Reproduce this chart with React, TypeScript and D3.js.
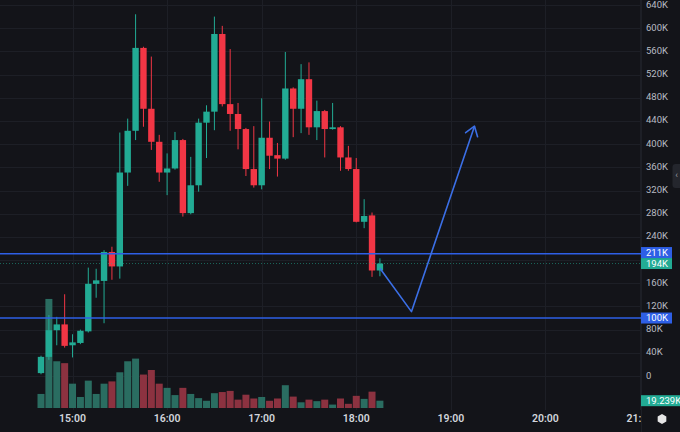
import React from 'react';
import * as d3 from 'd3';

const W = 680;
const H = 432;
const PANE_RIGHT = 641; // left edge of the price scale
const TIME_AXIS_Y = 419;

// candles are 5 minutes apart, first one at 14:40
const firstCandle = '14:40';
const candleMinutes = 5;

// prices in thousands
const opens = [5, 33, 79, 89, 53, 57, 77, 159, 164, 214, 189, 351, 423, 566, 461, 404, 351, 358, 407, 281, 329, 437,
  456, 590, 469, 452, 426, 357, 329, 411, 381, 375, 496, 461, 512, 429, 457, 426, 429, 377, 357, 266, 277, 182];
const highs = [35, 105, 102, 141, 72, 80, 187, 185, 217, 223, 420, 444, 624, 568, 551, 416, 384, 421, 409, 378, 444, 467,
  620, 604, 564, 471, 428, 431, 479, 439, 402, 559, 498, 538, 541, 475, 459, 471, 431, 397, 376, 305, 282, 203];
const lows = [3, 28, 53, 49, 32, 55, 75, 135, 91, 166, 168, 328, 407, 430, 390, 335, 312, 356, 275, 279, 318, 376,
  424, 465, 423, 391, 345, 325, 322, 357, 344, 373, 412, 419, 416, 407, 377, 425, 354, 354, 265, 255, 171, 172];
const closes = [33, 79, 89, 52, 58, 78, 159, 165, 214, 189, 351, 423, 566, 461, 404, 351, 358, 407, 281, 329, 437, 456,
  590, 469, 452, 426, 357, 329, 411, 380, 375, 496, 461, 512, 429, 457, 426, 429, 377, 357, 266, 276, 182, 194];
// volume in thousands
const volumes = [37, 287, 123, 118, 64, 29, 72, 37, 64, 70, 94, 123, 130, 88, 100, 64, 53, 34, 53, 37, 26, 19,
  39, 42, 45, 22, 35, 25, 29, 19, 25, 60, 30, 15, 22, 18, 22, 9, 25, 11, 32, 24, 43, 19.239];

const timeTicks = ['15:00', '16:00', '17:00', '18:00', '19:00', '20:00', '21:00'];
const priceTicks = [0, 40, 80, 120, 160, 200, 240, 280, 320, 360, 400, 440, 480, 520, 560, 600, 640];

// horizontal levels drawn on the chart
const levelValues = [211, 100];
const levelLabels = ['211K', '100K'];
const lastPrice = 194;
const lastPriceLabel = '194K';
const lastVolumeLabel = '19.239K';

// hand drawn arrow
const arrowTimes = ['18:15', '18:35', '19:15'];
const arrowValues = [186, 111, 431];

const BG = '#131419';
const GRID = '#1d1f26';
const UP = '#22ab94';
const DOWN = '#f23645';
const UP_VOL = '#2a6d61';
const DOWN_VOL = '#8c3240';
const LEVEL = '#2e5fe6';
const ARROW = '#3b6fe6';
const AXIS_TEXT = '#b8bbc3';
const FONT = 'Roboto, "Noto Sans", Arial, sans-serif';

const toMin = (s: string) => {
  const [h, m] = s.split(':').map(Number);
  return h * 60 + m;
};

const App: React.FC = () => {
  const x = d3.scaleLinear().domain([toMin('14:40'), toMin('21:00')]).range([41, 640]);
  const y = d3.scaleLinear().domain([0, 640]).range([376, 5]);
  const yVol = d3.scaleLinear().domain([0, 300]).range([408, 294]);

  const t0 = toMin(firstCandle);
  const candles = opens.map((o, i) => ({
    t: t0 + i * candleMinutes,
    o,
    h: highs[i],
    l: lows[i],
    c: closes[i],
    v: volumes[i],
  }));
  const bodyW = 6.4;
  const volW = 7;

  const arrowPts: [number, number][] = arrowTimes.map((t, i) => [x(toMin(t)), y(arrowValues[i])]);
  const line = d3.line();
  // arrow head
  const [tx, ty] = arrowPts[arrowPts.length - 1];
  const [px, py] = arrowPts[arrowPts.length - 2];
  const ang = Math.atan2(py - ty, px - tx);
  const headLen = 11;
  const spread = (35 * Math.PI) / 180;
  const head: [number, number][] = [
    [tx + headLen * Math.cos(ang + spread), ty + headLen * Math.sin(ang + spread)],
    [tx, ty],
    [tx + headLen * Math.cos(ang - spread), ty + headLen * Math.sin(ang - spread)],
  ];

  // price label boxes on the scale, pushed apart if they overlap
  const boxH = 11;
  const boxes = [
    { value: lastPrice, label: lastPriceLabel, color: UP, cy: y(lastPrice) },
    ...levelValues.map((v, i) => ({ value: v, label: levelLabels[i], color: LEVEL, cy: y(v) })),
  ];
  const sorted = [...boxes].sort((a, b) => b.cy - a.cy);
  for (let i = 1; i < sorted.length; i++) {
    const below = sorted[i - 1];
    if (sorted[i].cy > below.cy - boxH) sorted[i].cy = below.cy - boxH;
  }

  const hiddenTicks = priceTicks.filter((p) =>
    boxes.some((b) => Math.abs(y(p) - b.cy) < boxH - 1)
  );

  return (
    <div style={{ position: 'fixed', left: 0, top: 0 }}>
      <svg width={W} height={H} style={{ display: 'block', background: BG }} fontFamily={FONT}>
        <defs>
          <clipPath id="pane">
            <rect x={0} y={0} width={PANE_RIGHT} height={H} />
          </clipPath>
        </defs>
        <rect width={W} height={H} fill={BG} />

        <g clipPath="url(#pane)">
          {/* grid */}
          {priceTicks.map((p) => (
            <line key={'gy' + p} x1={0} x2={PANE_RIGHT} y1={Math.round(y(p)) + 0.5} y2={Math.round(y(p)) + 0.5}
              stroke={GRID} strokeWidth={1} />
          ))}
          {timeTicks.map((t) => (
            <line key={'gx' + t} x1={Math.round(x(toMin(t))) + 0.5} x2={Math.round(x(toMin(t))) + 0.5} y1={0} y2={410}
              stroke={GRID} strokeWidth={1} />
          ))}

          {/* volume */}
          {candles.map((d, i) => (
            <rect key={'v' + i} x={x(d.t) - volW / 2} y={yVol(d.v)} width={volW} height={yVol(0) - yVol(d.v)}
              fill={d.c >= d.o ? UP_VOL : DOWN_VOL} />
          ))}

          {/* candles */}
          {candles.map((d, i) => {
            const col = d.c >= d.o ? UP : DOWN;
            const cx = x(d.t);
            const top = y(Math.max(d.o, d.c));
            const bot = y(Math.min(d.o, d.c));
            return (
              <g key={'c' + i}>
                <line x1={cx} x2={cx} y1={y(d.h)} y2={y(d.l)} stroke={col} strokeWidth={1} />
                <rect x={cx - bodyW / 2} y={top} width={bodyW} height={Math.max(1.5, bot - top)} fill={col} />
              </g>
            );
          })}

          {/* levels */}
          {levelValues.map((v) => (
            <line key={'lv' + v} x1={0} x2={PANE_RIGHT} y1={y(v)} y2={y(v)} stroke={LEVEL} strokeWidth={1.6} />
          ))}
          <line x1={0} x2={PANE_RIGHT} y1={y(lastPrice)} y2={y(lastPrice)} stroke={UP} strokeOpacity={0.55}
            strokeWidth={1} strokeDasharray="1,2" />

          {/* arrow */}
          <path d={line(arrowPts) || ''} fill="none" stroke={ARROW} strokeWidth={1.6} strokeLinejoin="round" />
          <path d={line(head) || ''} fill="none" stroke={ARROW} strokeWidth={1.6} strokeLinejoin="round"
            strokeLinecap="round" />

          {/* time axis */}
          {timeTicks.map((t) => (
            <text key={'tt' + t} x={x(toMin(t))} y={TIME_AXIS_Y} textAnchor="middle" dominantBaseline="middle"
              fontSize={10.5} fontWeight={600} fill="#d1d4dc">{t}</text>
          ))}
        </g>

        {/* price scale */}
        <line x1={PANE_RIGHT + 0.5} x2={PANE_RIGHT + 0.5} y1={0} y2={H} stroke={GRID} strokeWidth={1} />
        {priceTicks.filter((p) => !hiddenTicks.includes(p)).map((p) => (
          <text key={'pt' + p} x={646} y={y(p)} dominantBaseline="middle" fontSize={9.5} fill={AXIS_TEXT}>
            {p === 0 ? '0' : `${p}K`}
          </text>
        ))}
        {boxes.map((b) => (
          <g key={'b' + b.label}>
            <rect x={PANE_RIGHT} y={b.cy - boxH / 2} width={31} height={boxH} fill={b.color} />
            <text x={646} y={b.cy + 0.5} dominantBaseline="middle" fontSize={9.5} fill="#ffffff">{b.label}</text>
          </g>
        ))}
        <rect x={PANE_RIGHT} y={yVol(volumes[volumes.length - 1]) - boxH / 2} width={W - PANE_RIGHT} height={boxH}
          fill={UP} />
        <text x={646} y={yVol(volumes[volumes.length - 1]) + 0.5} dominantBaseline="middle" fontSize={9.5}
          fill="#ffffff">{lastVolumeLabel}</text>

        {/* collapse tab */}
        <rect x={672.5} y={164} width={10} height={24} rx={3} fill="#24262d" />
        <text x={676.5} y={176} dominantBaseline="middle" textAnchor="middle" fontSize={9} fill="#9a9ca3">‹</text>

        {/* settings badge */}
        <polygon points={d3.range(6).map((k) => {
          const a = (Math.PI / 3) * k + Math.PI / 6;
          return `${662 + 5 * Math.cos(a)},${419 + 5 * Math.sin(a)}`;
        }).join(' ')} fill="#e6e6e6" />
      </svg>
    </div>
  );
};

export default App;
